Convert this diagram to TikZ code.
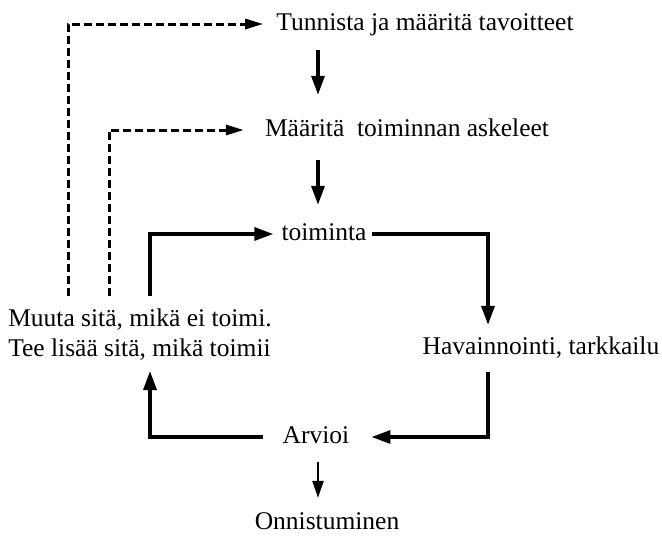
\documentclass[tikz,border=0pt]{standalone}
\usepackage{fontspec}
\setmainfont{Liberation Serif}
\usetikzlibrary{arrows.meta}
\begin{document}
\begin{tikzpicture}[x=1pt,y=1pt,
  lbl/.style={inner sep=0pt, text height=18pt, text depth=6pt, font=\fontsize{25.5}{30}\selectfont},
  arr/.style={line width=3.2pt, -{Triangle[length=19pt,width=13pt]}},
  tarr/.style={line width=2.5pt, -{Triangle[length=17pt,width=11pt]}},
  darr/.style={line width=3pt, dash pattern=on 8pt off 4pt, -{Triangle[length=18pt,width=10pt]}}]
\useasboundingbox (0,0) rectangle (662,-544);
\node[lbl] (tun) at (425,-24) {Tunnista ja määritä tavoitteet};
\node[lbl] (maa) at (407,-130) {Määritä\ \ toiminnan askeleet};
\node[lbl] (toim) at (324,-234) {toiminta};
\node[lbl] (hav) at (541,-348) {Havainnointi, tarkkailu};
\node[inner sep=0pt, align=left, font=\fontsize{25.5}{30}\selectfont] (muu) at (140,-335) {Muuta sitä, mikä ei toimi.\\Tee lisää sitä, mikä toimii};
\node[lbl] (arv) at (316,-437) {Arvioi};
\node[lbl] (onn) at (327,-523) {Onnistuminen};
\coordinate (vx) at (318,0);
\coordinate (rx) at (488,0);
\coordinate (lx) at (150,0);
\coordinate (d1) at (68,0);
\coordinate (d2) at (109,0);
% main vertical arrows
\draw[arr,shorten <=14pt,shorten >=23pt] (tun.south -| vx) -- (maa.north -| vx);
\draw[arr,shorten <=18pt,shorten >=17pt] (maa.south -| vx) -- (toim.north -| vx);
% cycle
\draw[arr,shorten <=5pt,shorten >=11pt] (toim.east) -| (rx |- hav.north);
\draw[arr,shorten <=12pt,shorten >=22pt] (rx |- hav.south) |- (arv.east);
\draw[arr,shorten <=20pt,shorten >=10pt] (arv.west) -| (lx |- muu.south);
\draw[arr,shorten <=13pt,shorten >=8pt] (lx |- muu.north) |- (toim.west);
% dashed feedback
\draw[darr,shorten <=13pt,shorten >=13pt] (d1 |- muu.north) |- (tun.west);
\draw[darr,shorten <=13pt,shorten >=21pt] (d2 |- muu.north) |- (maa.west);
% final
\draw[tarr,shorten <=13pt,shorten >=13pt] (arv.south -| vx) -- (onn.north -| vx);
\end{tikzpicture}
\end{document}
